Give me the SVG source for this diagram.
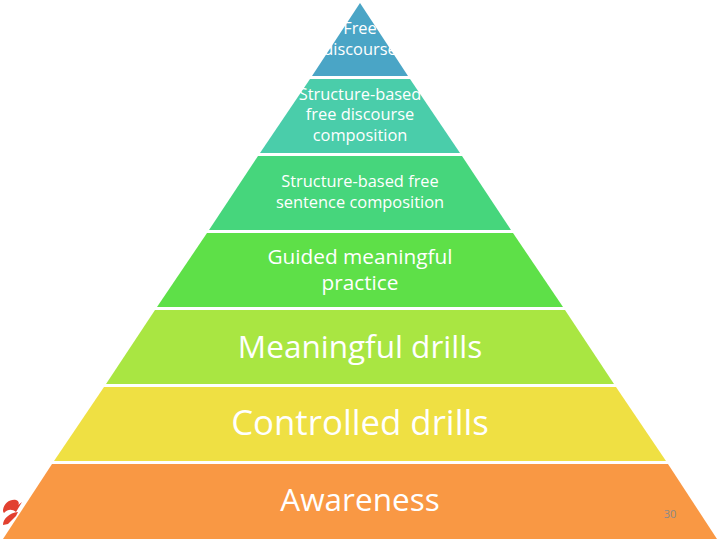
<svg xmlns="http://www.w3.org/2000/svg" width="720" height="540" viewBox="0 0 720 540">
<style>
text{font-family:"Open Sans","Noto Sans","DejaVu Sans",sans-serif;fill:#fff;text-anchor:middle}
.s15{font-size:16.4px}.s20{font-size:20.8px}.s31{font-size:31.5px}.s34{font-size:34.8px}
</style>
<rect width="720" height="540" fill="#fff"/>
<g id="logo"><path d="M3 510C4 503 10 499 16 500C19 501 20 504 17 506L22 502L16 512C12 509 8 509 4 513C3 512 3 511 3 510ZM3 525C3 519 9 513 18 512L16 516L8 524Z" fill="#e2402f"/></g>
<g id="band1"><polygon points="360,3 408,76 312,76" fill="#4aa5c6"/><text class="s15" x="360" y="34">Free</text><text class="s15" x="360" y="55">discourse</text></g>
<g id="band2"><polygon points="310,79 410,79 460,153 260,153" fill="#4acdaa"/><text class="s15" x="360" y="100">Structure-based</text><text class="s15" x="360" y="120">free discourse</text><text class="s15" x="360" y="141">composition</text></g>
<g id="band3"><polygon points="258,156 462,156 511,230 209,230" fill="#46d67c"/><text class="s15" x="360" y="187">Structure-based free</text><text class="s15" x="360" y="208">sentence composition</text></g>
<g id="band4"><polygon points="207,233 513,233 563,307 157,307" fill="#5ee048"/><text class="s20" x="360" y="264">Guided meaningful</text><text class="s20" x="360" y="290">practice</text></g>
<g id="band5"><polygon points="155,310 565,310 614,384 106,384" fill="#a9e642"/><text class="s31" x="360" y="358">Meaningful drills</text></g>
<g id="band6"><polygon points="104,387 616,387 666,461 54,461" fill="#efe043"/><text class="s34" x="360" y="435">Controlled drills</text></g>
<g id="band7"><polygon points="52,464 668,464 717,539 3,539" fill="#f99844"/><text class="s31" x="360" y="511">Awareness</text><text x="670" y="518" style="font-size:11px;fill:#8a8a8a">30</text></g>
<g id="connectors"/>
</svg>
